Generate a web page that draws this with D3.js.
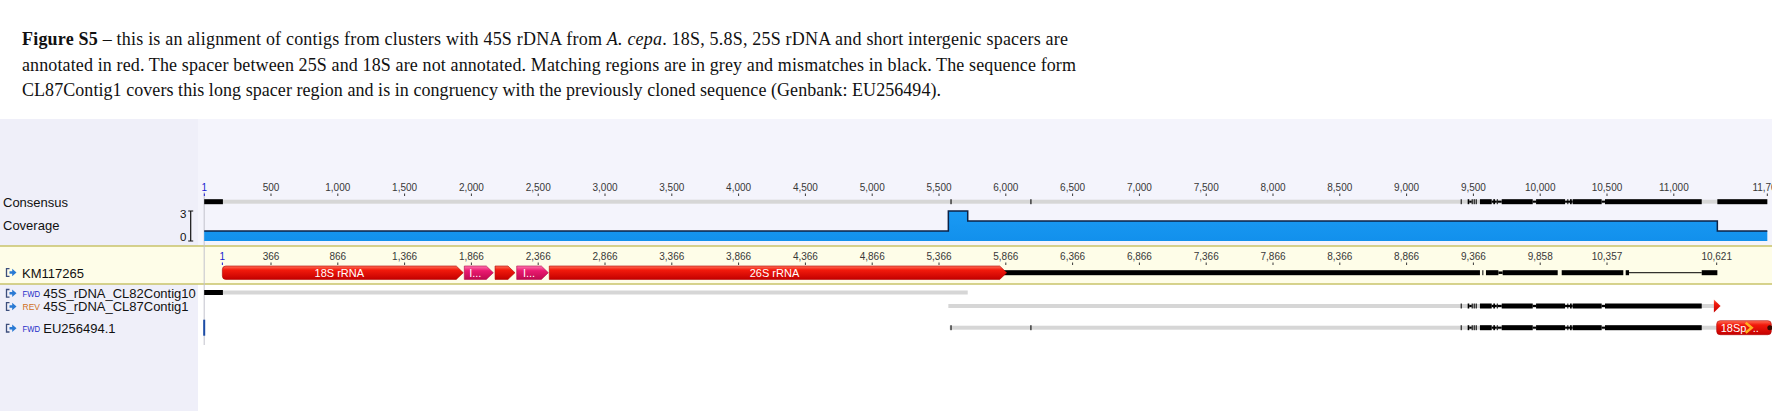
<!DOCTYPE html>
<html>
<head>
<meta charset="utf-8">
<script src="https://cdnjs.cloudflare.com/ajax/libs/d3/7.8.5/d3.min.js"></script>
<style>
    html, body { margin: 0; padding: 0; background: #fff; }
    svg { display: block; }
</style>
</head>
<body>
<div id="viewer"></div>
<script>
var rulerTicks = [1, 500, 1000, 1500, 2000, 2500, 3000, 3500, 4000, 4500, 5000, 5500, 6000,
    6500, 7000, 7500, 8000, 8500, 9000, 9500, 10000, 10500, 11000, 11700];

// KM117265 own numbering, placed where it falls in the alignment
var kmTickPos = [136, 500, 1000, 1500, 2000, 2500, 3000, 3500, 4000, 4500, 5000, 5500, 6000,
    6500, 7000, 7500, 8000, 8500, 9000, 9500, 10000, 10500, 11321];
var kmTickLabels = ["1", "366", "866", "1,366", "1,866", "2,366", "2,866", "3,366", "3,866",
    "4,366", "4,866", "5,366", "5,866", "6,366", "6,866", "7,366", "7,866", "8,366", "8,866",
    "9,366", "9,858", "10,357", "10,621"];

// coverage steps: start of each step and depth
var coveragePos = [0, 5570, 5715, 11326, 11700];
var coverageVal = [1, 3, 2, 1, 1];

// annotations on KM117265
var featureNames = ["18S rRNA", "I...", "", "I...", "26S rRNA"];
var featureStart = [136, 1947, 2177, 2339, 2583];
var featureEnd = [1939, 2164, 2326, 2576, 6007];
var featureType = ["rRNA", "spacer", "rRNA", "spacer", "rRNA"];

// KM117265 sequence after the 26S (black = present, thin line = gap)
var kmBlocks = [[5900, 9549], [9567, 9574], [9594, 9687], [9719, 10131], [10161, 10622],
    [10640, 10665], [11209, 11326]];
var kmThin = [[9687, 9719]];
var kmGap = [[10665, 11209]];

// mismatches in the long spacer, shared by consensus, CL87Contig1 and EU256494.1
var spacerBlocks = [[9405, 9412], [9457, 9469], [9487, 9495], [9502, 9510], [9517, 9525],
    [9549, 9637], [9649, 9662], [9675, 9682], [9712, 9944], [9969, 10186], [10203, 10210],
    [10223, 10236], [10243, 10460], [10485, 11209]];
var spacerThin = [[9469, 9487], [9637, 9675], [9682, 9712], [9944, 9969], [10186, 10243],
    [10460, 10485]];

var consensusGrey = [[0, 11700]];
var consensusBlack = [[0, 140], [5586, 5594], [6184, 6192], [11326, 11700]];

var rowNames = ["45S_rDNA_CL82Contig10", "45S_rDNA_CL87Contig1", "EU256494.1"];
var rowDirs = ["FWD", "REV", "FWD"];
var rowGrey = [[[0, 5715]], [[5570, 11300]], [[5580, 11326]]];
var rowBlack = [[[0, 140]], [], [[5586, 5594], [6184, 6192]]];
var rowSpacer = [false, true, true];

var cl87End = [11300, 11350];
var euFeature = [11321, 11700];
var euFeatureName = "18Sp";

(function () {
    var width = 1772
    var height = 411
    var leftW = 198
    var panelTop = 119

    var x = d3.scaleLinear()
        .domain([0, 11700])
        .range([204.2, 204.2 + 11700 * 0.1336])

    var yCov = d3.scaleLinear()
        .domain([0, 3])
        .range([241, 211])

    var svg = d3.select("#viewer")
        .append("svg")
        .attr("width", width)
        .attr("height", height)
        .style("font-family", "Arial, 'Liberation Sans', sans-serif")

    var defs = svg.append("defs")
    function gradient(id, stops) {
        var g = defs.append("linearGradient")
            .attr("id", id)
            .attr("x1", 0).attr("y1", 0).attr("x2", 0).attr("y2", 1)
        stops.forEach(function (s) {
            g.append("stop").attr("offset", s[0]).attr("stop-color", s[1])
        })
    }
    gradient("redGrad", [["0%", "#ff7058"], ["30%", "#f21a0c"], ["100%", "#c40000"]])
    gradient("pinkGrad", [["0%", "#ff78b0"], ["35%", "#ea1a70"], ["100%", "#c00a50"]])
    gradient("blueGrad", [["0%", "#1a9af4"], ["100%", "#1290ec"]])

    // ---- caption ----
    var cap = svg.append("g")
        .style("font-family", "'Palatino Linotype', 'Book Antiqua', Palatino, 'Liberation Serif', serif")
        .style("font-size", "18px")
        .attr("fill", "#111")

    var l1 = cap.append("text").attr("x", 22).attr("y", 44.5)
        .attr("textLength", 1046).attr("lengthAdjust", "spacing")
    l1.append("tspan").attr("font-weight", "bold").text("Figure S5")
    l1.append("tspan").text(" \u2013 this is an alignment of contigs from clusters with 45S rDNA from ")
    l1.append("tspan").attr("font-style", "italic").text("A. cepa")
    l1.append("tspan").text(". 18S, 5.8S, 25S rDNA and short intergenic spacers are")

    cap.append("text").attr("x", 22).attr("y", 70.5)
        .attr("textLength", 1054).attr("lengthAdjust", "spacing")
        .text("annotated in red. The spacer between 25S and 18S are not annotated. Matching regions are in grey and mismatches in black. The sequence form")
    cap.append("text").attr("x", 22).attr("y", 96)
        .attr("textLength", 919).attr("lengthAdjust", "spacing")
        .text("CL87Contig1 covers this long spacer region and is in congruency with the previously cloned sequence (Genbank: EU256494).")

    // ---- panel backgrounds ----
    svg.append("rect")
        .attr("x", 0).attr("y", panelTop)
        .attr("width", width).attr("height", height - panelTop)
        .attr("fill", "#f4f4fc")
    svg.append("rect")
        .attr("x", leftW).attr("y", 284)
        .attr("width", width - leftW).attr("height", height - 284)
        .attr("fill", "#ffffff")
    svg.append("rect")
        .attr("x", 0).attr("y", panelTop)
        .attr("width", leftW).attr("height", height - panelTop)
        .attr("fill", "#efeff9")
    svg.append("rect")
        .attr("x", 0).attr("y", 246)
        .attr("width", width).attr("height", 38)
        .attr("fill", "#fefde8")
    svg.selectAll("bandLines")
        .data([246, 284])
        .enter()
        .append("line")
        .attr("x1", 0).attr("x2", width)
        .attr("y1", function (d) { return d }).attr("y2", function (d) { return d })
        .attr("stroke", "#c8c36a")
        .attr("stroke-width", 1.5)

    // start of the alignment
    svg.append("line")
        .attr("x1", x(0)).attr("x2", x(0))
        .attr("y1", 192).attr("y2", 345)
        .attr("stroke", "#c2c2cc")
        .attr("stroke-width", 1)

    // ---- rulers ----
    var fmt = d3.format(",")
    function ruler(pos, labels, base) {
        var g = svg.append("g")
        g.selectAll("t")
            .data(pos)
            .enter()
            .append("text")
            .attr("x", function (d) { return x(d) })
            .attr("y", base)
            .attr("text-anchor", "middle")
            .style("font-size", "10px")
            .attr("fill", function (d, i) { return i === 0 ? "#1a1ad0" : "#383838" })
            .text(function (d, i) { return labels[i] })
        g.selectAll("k")
            .data(pos)
            .enter()
            .append("line")
            .attr("x1", function (d) { return x(d) })
            .attr("x2", function (d) { return x(d) })
            .attr("y1", base + 3).attr("y2", base + 5.5)
            .attr("stroke", function (d, i) { return i === 0 ? "#1a1ad0" : "#383838" })
            .attr("stroke-width", 1)
    }
    ruler(rulerTicks, rulerTicks.map(fmt), 190.5)
    ruler(kmTickPos, kmTickLabels, 259.5)

    // ---- bars helper ----
    function bars(data, cy, h, fill) {
        svg.append("g")
            .selectAll("rect")
            .data(data)
            .enter()
            .append("rect")
            .attr("x", function (d) { return x(d[0]) })
            .attr("width", function (d) { return Math.max(1, x(d[1]) - x(d[0])) })
            .attr("y", cy - h / 2)
            .attr("height", h)
            .attr("fill", fill)
    }

    // ---- consensus ----
    var yConsensus = 201.7
    bars(consensusGrey, yConsensus, 4, "#d6d6d6")
    bars(consensusBlack, yConsensus, 5, "#000")
    bars(spacerBlocks, yConsensus, 5, "#000")
    bars(spacerThin, yConsensus, 2, "#000")

    // ---- coverage ----
    var covData = coveragePos.map(function (p, i) { return [p, coverageVal[i]] })
    svg.append("path")
        .datum(covData)
        .attr("d", d3.area()
            .x(function (d) { return x(d[0]) })
            .y0(yCov(0))
            .y1(function (d) { return yCov(d[1]) })
            .curve(d3.curveStepAfter))
        .attr("fill", "url(#blueGrad)")
    svg.append("path")
        .datum(covData)
        .attr("d", d3.line()
            .x(function (d) { return x(d[0]) })
            .y(function (d) { return yCov(d[1]) })
            .curve(d3.curveStepAfter))
        .attr("fill", "none")
        .attr("stroke", "#0c2246")
        .attr("stroke-width", 1.5)

    // coverage scale bracket
    var ax = 190.7
    svg.append("path")
        .attr("d", "M" + (ax - 2.5) + "," + yCov(3) + "H" + (ax + 2.5) +
            "M" + ax + "," + yCov(3) + "V" + yCov(0) +
            "M" + (ax - 2.5) + "," + yCov(0) + "H" + (ax + 2.5))
        .attr("stroke", "#111")
        .attr("stroke-width", 1.2)
        .attr("fill", "none")
    svg.selectAll("covLabels")
        .data([3, 0])
        .enter()
        .append("text")
        .attr("x", 186.5)
        .attr("y", function (d) { return d === 3 ? yCov(d) + 7 : yCov(d) })
        .attr("text-anchor", "end")
        .style("font-size", "11.5px")
        .attr("fill", "#111")
        .text(function (d) { return d })

    // ---- KM117265 ----
    var yKM = 272.7
    bars(kmBlocks, yKM, 5, "#000")
    bars(kmThin, yKM, 2.5, "#000")
    bars(kmGap, yKM, 1, "#000")

    var fh = 6.7
    function featurePath(i) {
        var x0 = x(featureStart[i]), x1 = x(featureEnd[i])
        var a = Math.min(7, (x1 - x0) / 2)
        var r = i === 0 ? 3.5 : 0
        return "M" + (x0 + r) + "," + (yKM - fh) +
            "L" + (x1 - a) + "," + (yKM - fh) +
            "L" + x1 + "," + yKM +
            "L" + (x1 - a) + "," + (yKM + fh) +
            "L" + (x0 + r) + "," + (yKM + fh) +
            "Q" + x0 + "," + (yKM + fh) + " " + x0 + "," + (yKM + fh - r) +
            "L" + x0 + "," + (yKM - fh + r) +
            "Q" + x0 + "," + (yKM - fh) + " " + (x0 + r) + "," + (yKM - fh) + "Z"
    }
    var feats = svg.append("g")
        .selectAll("g")
        .data(featureNames)
        .enter()
        .append("g")
    feats.append("path")
        .attr("d", function (d, i) { return featurePath(i) })
        .attr("fill", function (d, i) { return featureType[i] === "rRNA" ? "url(#redGrad)" : "url(#pinkGrad)" })
        .attr("stroke", function (d, i) { return featureType[i] === "rRNA" ? "#b00000" : "#b00848" })
        .attr("stroke-width", 0.6)
    feats.append("text")
        .attr("x", function (d, i) { return (x(featureStart[i]) + x(featureEnd[i]) - 7) / 2 })
        .attr("y", yKM + 4)
        .attr("text-anchor", "middle")
        .style("font-size", "11px")
        .attr("fill", "#fff")
        .text(function (d) { return d })

    // ---- contig rows ----
    var rowY = [292.5, 306, 327.7]
    rowNames.forEach(function (name, i) {
        bars(rowGrey[i], rowY[i], 4, "#d6d6d6")
        bars(rowBlack[i], rowY[i], 5, "#000")
        if (rowSpacer[i]) {
            bars(spacerBlocks, rowY[i], 5, "#000")
            bars(spacerThin, rowY[i], 2, "#000")
        }
    })

    // EU256494.1 start mark
    svg.append("rect")
        .attr("x", x(0) - 1).attr("y", rowY[2] - 8)
        .attr("width", 2).attr("height", 16)
        .attr("fill", "#1c4ca6")

    // CL87Contig1 end arrow
    svg.append("path")
        .attr("d", "M" + x(cl87End[0]) + "," + (rowY[1] - 6.5) +
            "L" + x(cl87End[1]) + "," + rowY[1] +
            "L" + x(cl87End[0]) + "," + (rowY[1] + 6.5) + "Z")
        .attr("fill", "url(#redGrad)")

    // EU256494.1 18S feature running off the view
    var ex0 = x(euFeature[0]), ex1 = x(euFeature[1]) + 4
    svg.append("rect")
        .attr("x", ex0).attr("y", rowY[2] - 7)
        .attr("width", ex1 - ex0).attr("height", 14)
        .attr("rx", 3.5)
        .attr("fill", "url(#redGrad)")
        .attr("stroke", "#b00000")
        .attr("stroke-width", 0.6)
    svg.append("text")
        .attr("x", ex0 + 4).attr("y", rowY[2] + 4)
        .style("font-size", "11px")
        .attr("fill", "#fff")
        .text(euFeatureName)
    svg.append("path")
        .attr("d", "M" + (ex0 + 29) + "," + (rowY[2] - 5) + "L" + (ex0 + 35) + "," + rowY[2] +
            "L" + (ex0 + 29) + "," + (rowY[2] + 5))
        .attr("fill", "none")
        .attr("stroke", "#ffb020")
        .attr("stroke-width", 2.5)
    svg.append("text")
        .attr("x", ex0 + 36).attr("y", rowY[2] + 4)
        .style("font-size", "11px")
        .attr("fill", "#fff")
        .text("..")
    svg.append("circle")
        .attr("cx", ex1 - 1.5).attr("cy", rowY[2])
        .attr("r", 2.5)
        .attr("fill", "#3a0a00")

    // ---- left labels ----
    var labels = svg.append("g").attr("fill", "#111").style("font-size", "13px")
    labels.append("text").attr("x", 3).attr("y", 206.5).text("Consensus")
    labels.append("text").attr("x", 3).attr("y", 229.5).text("Coverage")

    function icon(cy) {
        var g = svg.append("g").attr("transform", "translate(0," + cy + ")")
        g.append("path")
            .attr("d", "M9.5,-3.8H6.5V3.8H9.5")
            .attr("fill", "none")
            .attr("stroke", "#3c4e7c")
            .attr("stroke-width", 1.3)
        g.append("path")
            .attr("d", "M9.5,-1.3H12.2V-3.8L16.5,0L12.2,3.8V1.3H9.5Z")
            .attr("fill", "#2a7ad4")
    }

    icon(272.5)
    labels.append("text").attr("x", 22).attr("y", 277.5).text("KM117265")

    rowNames.forEach(function (name, i) {
        var cy = rowY[i] + (i === 0 ? 0.8 : 0.5)
        icon(cy)
        svg.append("text")
            .attr("x", 22.5).attr("y", cy + 3.5)
            .style("font-size", "9.5px")
            .attr("textLength", 17.5).attr("lengthAdjust", "spacingAndGlyphs")
            .attr("fill", rowDirs[i] === "FWD" ? "#1e2ec8" : "#d0701c")
            .text(rowDirs[i])
        labels.append("text")
            .attr("x", 43.3).attr("y", cy + 4.6)
            .text(name)
    })
})();
</script>
</body>
</html>
